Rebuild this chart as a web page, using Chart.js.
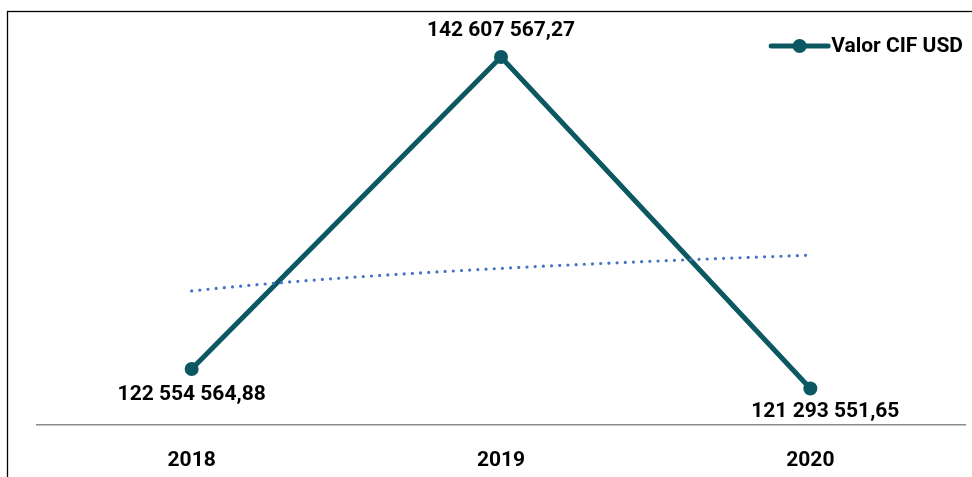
<!DOCTYPE html>
<html>
<head>
<meta charset="utf-8">
<script src="https://cdn.jsdelivr.net/npm/chart.js@4.4.1/dist/chart.umd.min.js"></script>
<style>
  html, body { margin: 0; padding: 0; background: #fff; overflow: hidden; }
  #wrap { position: relative; width: 972px; height: 477px; }
</style>
</head>
<body>
<div id="wrap"><canvas id="c" width="972" height="477"></canvas></div>
<script>
// Imports, CIF value in USD per year
const years = ['2018', '2019', '2020'];
const valorCifUsd = [122554564.88, 142607567.27, 121293551.65];
const seriesLabel = 'Valor CIF USD';

const LINE_COLOR = '#0B5863';
const TREND_COLOR = '#4472C4';
const FONT = 'Roboto, "Liberation Sans", Arial, sans-serif';
const FONT_SIZE = 21;

// "122 554 564,88" style: space thousands separator, comma decimals
function formatValue(v) {
  const [intPart, dec] = v.toFixed(2).split('.');
  return intPart.replace(/\B(?=(\d{3})+(?!\d))/g, ' ') + ',' + dec;
}

// Logarithmic trendline y = a + b*ln(x), x = 1..n, least squares
function logTrend(values) {
  const xs = values.map((_, i) => Math.log(i + 1));
  const n = values.length;
  const mx = xs.reduce((s, x) => s + x, 0) / n;
  const my = values.reduce((s, y) => s + y, 0) / n;
  let sxy = 0, sxx = 0;
  xs.forEach((x, i) => { sxy += (x - mx) * (values[i] - my); sxx += (x - mx) * (x - mx); });
  const b = sxy / sxx;
  return { a: my - b * mx, b };
}
const fit = logTrend(valorCifUsd);
const trendPoints = [];
for (let k = 0; k <= 60; k++) {
  const t = (years.length - 1) * k / 60;
  trendPoints.push({ x: t, y: fit.a + fit.b * Math.log(t + 1) });
}

// Outer frame of the chart object
const framePlugin = {
  id: 'frame',
  beforeDraw(chart) {
    const ctx = chart.ctx;
    ctx.save();
    ctx.strokeStyle = '#000';
    ctx.lineWidth = 1.3;
    ctx.strokeRect(7.5, 11.5, chart.width + 20, chart.height + 20);
    ctx.restore();
  }
};

// Value labels next to each point
const valueLabels = {
  id: 'valueLabels',
  afterDatasetsDraw(chart, args, opts) {
    const meta = chart.getDatasetMeta(0);
    const ctx = chart.ctx;
    ctx.save();
    ctx.font = 'bold ' + FONT_SIZE + 'px ' + FONT;
    ctx.fillStyle = '#000';
    ctx.textAlign = 'center';
    ctx.textBaseline = 'middle';
    meta.data.forEach((pt, i) => {
      const o = opts.offsets[i];
      ctx.fillText(formatValue(valorCifUsd[i]), pt.x + o[0], pt.y + o[1]);
    });
    ctx.restore();
  }
};

// Legend: line with marker, then series name, top right
const lineLegend = {
  id: 'lineLegend',
  afterDraw(chart, args, opts) {
    const ds = chart.data.datasets[0];
    const ctx = chart.ctx;
    ctx.save();
    ctx.font = 'bold ' + FONT_SIZE + 'px ' + FONT;
    const textW = ctx.measureText(ds.label).width;
    const textX = chart.width - opts.rightGap - textW;
    const y = opts.y;
    const x1 = textX - 3, x0 = x1 - opts.lineLength;
    ctx.strokeStyle = ds.borderColor;
    ctx.lineWidth = ds.borderWidth;
    ctx.lineCap = 'round';
    ctx.beginPath();
    ctx.moveTo(x0, y);
    ctx.lineTo(x1, y);
    ctx.stroke();
    ctx.fillStyle = ds.pointBackgroundColor;
    ctx.beginPath();
    ctx.arc((x0 + x1) / 2, y, ds.pointRadius, 0, Math.PI * 2);
    ctx.fill();
    ctx.fillStyle = '#000';
    ctx.textAlign = 'left';
    ctx.textBaseline = 'middle';
    ctx.fillText(ds.label, textX, y + 1);
    ctx.restore();
  }
};

new Chart(document.getElementById('c'), {
  type: 'line',
  data: {
    labels: years,
    datasets: [
      {
        label: seriesLabel,
        data: valorCifUsd,
        order: 1,
        borderColor: LINE_COLOR,
        backgroundColor: LINE_COLOR,
        pointBackgroundColor: LINE_COLOR,
        pointBorderColor: LINE_COLOR,
        borderWidth: 5,
        pointRadius: 7,
        pointBorderWidth: 0,
        borderCapStyle: 'round',
        tension: 0,
        fill: false
      },
      {
        label: 'Tendencia',
        data: trendPoints,
        xAxisID: 'xTrend',
        order: 0,
        borderColor: TREND_COLOR,
        borderWidth: 3.2,
        borderDash: [0, 8.2],
        borderCapStyle: 'round',
        pointRadius: 0,
        tension: 0,
        fill: false
      }
    ]
  },
  options: {
    responsive: false,
    animation: false,
    layout: { padding: { left: 37, right: 6, top: 12, bottom: 5 } },
    scales: {
      x: {
        type: 'category',
        offset: true,
        grid: { display: false, drawTicks: false },
        border: { display: true, color: '#8a8a8a', width: 1.5 },
        ticks: {
          color: '#000',
          padding: 23,
          maxRotation: 0,
          font: { family: FONT, size: FONT_SIZE, weight: 'bold' }
        },
        afterFit(scale) { scale.height = 47; }
      },
      xTrend: {
        type: 'linear',
        display: false,
        min: -0.5,
        max: years.length - 0.5
      },
      y: {
        display: false,
        min: 118950000,
        max: 145500000
      }
    },
    plugins: {
      legend: { display: false },
      tooltip: { enabled: false },
      valueLabels: { offsets: [[0, 26], [0, -26], [15, 23]] },
      lineLegend: { y: 46, rightGap: 9, lineLength: 57 }
    }
  },
  plugins: [framePlugin, valueLabels, lineLegend]
});
</script>
</body>
</html>
